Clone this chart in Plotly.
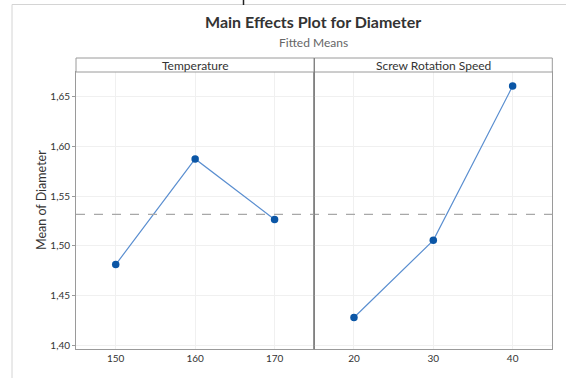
import numpy as np
import plotly.graph_objects as go

# ---- data ----
temperature_levels = [150, 160, 170]
temperature_means = [1.481, 1.5874, 1.5264]
speed_levels = [20, 30, 40]
speed_means = [1.4277, 1.5054, 1.6607]
y_ticks = [1.40, 1.45, 1.50, 1.55, 1.60, 1.65]
panel_titles = ["Temperature", "Screw Rotation Speed"]
grand_mean = float(np.mean(temperature_means))

W, H = 566, 378
def px(x):
    return x / W
def py(y):
    return 1 - y / H

FONT = "Lato"
BLUE = "#0b56a6"
LINE_BLUE = "#5b8fd0"
AX = "#9a9a9a"

fig = go.Figure()
fig.add_trace(go.Scatter(x=temperature_levels, y=temperature_means, mode="lines+markers",
                         line=dict(color=LINE_BLUE, width=1.2),
                         marker=dict(color=BLUE, size=7.5), xaxis="x", yaxis="y",
                         showlegend=False, hoverinfo="x+y"))
fig.add_trace(go.Scatter(x=speed_levels, y=speed_means, mode="lines+markers",
                         line=dict(color=LINE_BLUE, width=1.2),
                         marker=dict(color=BLUE, size=7.5), xaxis="x2", yaxis="y2",
                         showlegend=False, hoverinfo="x+y"))

left, mid, right = 76, 314.3, 552.3
top, bottom = 72, 349.3
strip_top = 58
yr = [1.3957, 1.6749]

common_x = dict(showline=True, linecolor=AX, linewidth=1, mirror=True,
                showgrid=True, gridcolor="#f0f0f0", gridwidth=1, zeroline=False,
                ticks="", tickfont=dict(family=FONT, size=10, color="#333"))
fig.update_layout(
    width=W, height=H,
    margin=dict(l=0, r=0, t=0, b=0),
    paper_bgcolor="white", plot_bgcolor="white",
    separators=",.",
    xaxis=dict(domain=[px(left), px(mid)], range=[145, 175],
               tickvals=temperature_levels, anchor="y", **common_x),
    xaxis2=dict(domain=[px(mid), px(right)], range=[15, 45],
                tickvals=speed_levels, anchor="y2", **common_x),
    yaxis=dict(domain=[py(bottom), py(top)], range=yr, tickvals=y_ticks,
               tickformat=".2f", showline=True, linecolor=AX, linewidth=1, mirror=True,
               showgrid=True, gridcolor="#f0f0f0", zeroline=False,
               ticks="outside", ticklen=3, tickcolor=AX,
               tickfont=dict(family=FONT, size=10, color="#333"),
               anchor="x"),
    yaxis2=dict(domain=[py(bottom), py(top)], range=yr, tickvals=y_ticks,
                showticklabels=False, showline=True, linecolor=AX, linewidth=1, mirror=True,
                showgrid=True, gridcolor="#f0f0f0", zeroline=False, ticks="",
                anchor="x2", matches="y"),
)

shapes = []
# grand mean dashed reference line across both panels
shapes.append(dict(type="line", xref="paper", yref="y", x0=px(left), x1=px(right),
                   y0=grand_mean, y1=grand_mean,
                   line=dict(color="#a8a8a8", width=1.2, dash="dash")))
# strips
for x0, x1 in [(left, mid), (mid, right)]:
    shapes.append(dict(type="rect", xref="paper", yref="paper", x0=px(x0), x1=px(x1),
                       y0=py(top), y1=py(strip_top), line=dict(color=AX, width=1),
                       fillcolor="white"))
# divider
shapes.append(dict(type="line", xref="paper", yref="paper", x0=px(mid), x1=px(mid),
                   y0=py(bottom), y1=py(strip_top), line=dict(color="#7a7a7a", width=1)))
# outer frame lines of the screenshot
shapes.append(dict(type="line", xref="paper", yref="paper", x0=px(12), x1=1,
                   y0=py(4.5), y1=py(4.5), line=dict(color="#d4d4d4", width=1)))
shapes.append(dict(type="line", xref="paper", yref="paper", x0=px(12), x1=px(12),
                   y0=py(4.5), y1=0, line=dict(color="#d4d4d4", width=1)))
shapes.append(dict(type="line", xref="paper", yref="paper", x0=px(243.5), x1=px(243.5),
                   y0=1, y1=py(5), line=dict(color="#222", width=1.5)))
fig.update_layout(shapes=shapes)

annotations = [
    dict(text="<b>Main Effects Plot for Diameter</b>", x=px(313), y=py(22), xref="paper", yref="paper",
         showarrow=False, font=dict(family=FONT, size=16, color="#333"), xanchor="center", yanchor="middle"),
    dict(text="Fitted Means", x=px(313), y=py(42), xref="paper", yref="paper",
         showarrow=False, font=dict(family=FONT, size=12, color="#666"), xanchor="center", yanchor="middle"),
    dict(text=panel_titles[0], x=px((left + mid) / 2), y=py(65.5), xref="paper", yref="paper",
         showarrow=False, font=dict(family=FONT, size=12, color="#333"), xanchor="center", yanchor="middle"),
    dict(text=panel_titles[1], x=px((mid + right) / 2), y=py(65.5), xref="paper", yref="paper",
         showarrow=False, font=dict(family=FONT, size=12, color="#333"), xanchor="center", yanchor="middle"),
    dict(text="Mean of Diameter", x=px(41), y=py(200), xref="paper", yref="paper", textangle=-90,
         showarrow=False, font=dict(family=FONT, size=12.5, color="#333"), xanchor="center", yanchor="middle"),
]
fig.update_layout(annotations=annotations)

fig.write_html("out.html", post_script="document.body.style.margin='0px';",
               config={"displayModeBar": False})
